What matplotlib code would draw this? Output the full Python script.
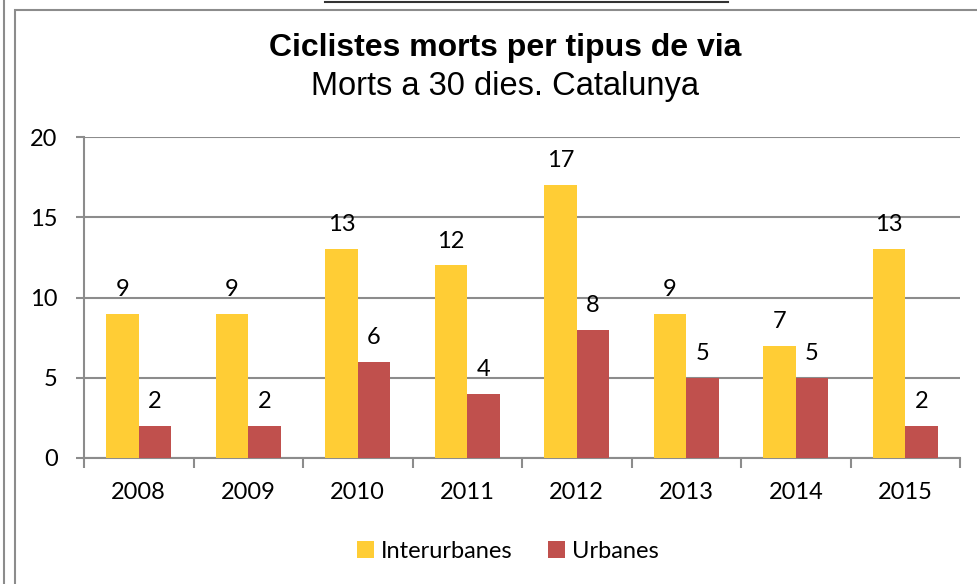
import matplotlib
matplotlib.use("Agg")
import matplotlib.pyplot as plt
from matplotlib.lines import Line2D
from matplotlib.patches import Rectangle
import numpy as np

years = ["2008", "2009", "2010", "2011", "2012", "2013", "2014", "2015"]
interurbanes = [9, 9, 13, 12, 17, 9, 7, 13]
urbanes = [2, 2, 6, 4, 8, 5, 5, 2]
series_names = ["Interurbanes", "Urbanes"]
yticks = [0, 5, 10, 15, 20]

C_YEL = "#FFCD35"
C_RED = "#C0504D"
GRAY = "#8C8C8C"
LBL_FONT = ["Lato", "DejaVu Sans"]
TTL_FONT = ["Liberation Sans", "DejaVu Sans"]
FS = 17

fig = plt.figure(figsize=(9.78, 5.84), dpi=100)
W, H = 978, 584

# outer frame decorations
fig.add_artist(Rectangle((15 / W, -0.1), 1.2, 1 - 10 / H + 0.1, transform=fig.transFigure,
                         fill=False, edgecolor=GRAY, lw=1.5))
fig.add_artist(Line2D([4 / W, 4 / W], [0, 1], transform=fig.transFigure, color=GRAY, lw=1.5))
fig.add_artist(Line2D([325 / W, 728 / W], [1 - 1.5 / H, 1 - 1.5 / H], transform=fig.transFigure,
                      color="#333333", lw=1.5))

ax = fig.add_axes([84 / W, 1 - 458 / H, (960 - 84) / W, (458 - 137) / H])
x = np.arange(len(years))
bw = 0.295
b1 = ax.bar(x - bw / 2, interurbanes, bw, color=C_YEL, label=series_names[0], zorder=3)
b2 = ax.bar(x + bw / 2, urbanes, bw, color=C_RED, label=series_names[1], zorder=3)

for bars, vals in ((b1, interurbanes), (b2, urbanes)):
    for r, v in zip(bars, vals):
        ax.annotate(str(v), (r.get_x() + r.get_width() / 2, v), xytext=(0, 10),
                    textcoords="offset points", ha="center", va="bottom",
                    fontsize=FS, family=LBL_FONT)

ax.set_xlim(-0.5, len(years) - 0.5)
ax.set_ylim(0, 20)
ax.set_yticks(yticks)
ax.set_yticklabels([str(t) for t in yticks], fontsize=FS, family=LBL_FONT)
ax.set_xticks(x)
ax.set_xticklabels(years, fontsize=FS, family=LBL_FONT)
ax.tick_params(axis="x", length=0, pad=17)
ax.tick_params(axis="y", length=6, color=GRAY, width=1.5, pad=13)
ax.set_xticks(np.arange(-0.5, len(years) + 0.5, 1), minor=True)
ax.tick_params(axis="x", which="minor", length=7, color=GRAY, width=1.5, direction="out")
ax.grid(axis="y", color=GRAY, lw=1.5, zorder=0)
for s in ("top", "right"):
    ax.spines[s].set_visible(False)
for s in ("left", "bottom"):
    ax.spines[s].set_color(GRAY)
    ax.spines[s].set_linewidth(1.5)

fig.text(505 / W, 1 - 48 / H, "Ciclistes morts per tipus de via", ha="center", va="center",
         fontsize=23, fontweight="bold", family=TTL_FONT)
fig.text(505 / W, 1 - 86 / H, "Morts a 30 dies. Catalunya", ha="center", va="center",
         fontsize=23.5, family=TTL_FONT)

leg = fig.legend(handles=[b1, b2], loc="center", bbox_to_anchor=(508 / W, 1 - 551 / H),
                 ncol=2, frameon=False, prop={"family": LBL_FONT, "size": FS},
                 handlelength=0.7, handleheight=0.7, handletextpad=0.3, columnspacing=1.5)

fig.savefig("out.png", dpi=100)
